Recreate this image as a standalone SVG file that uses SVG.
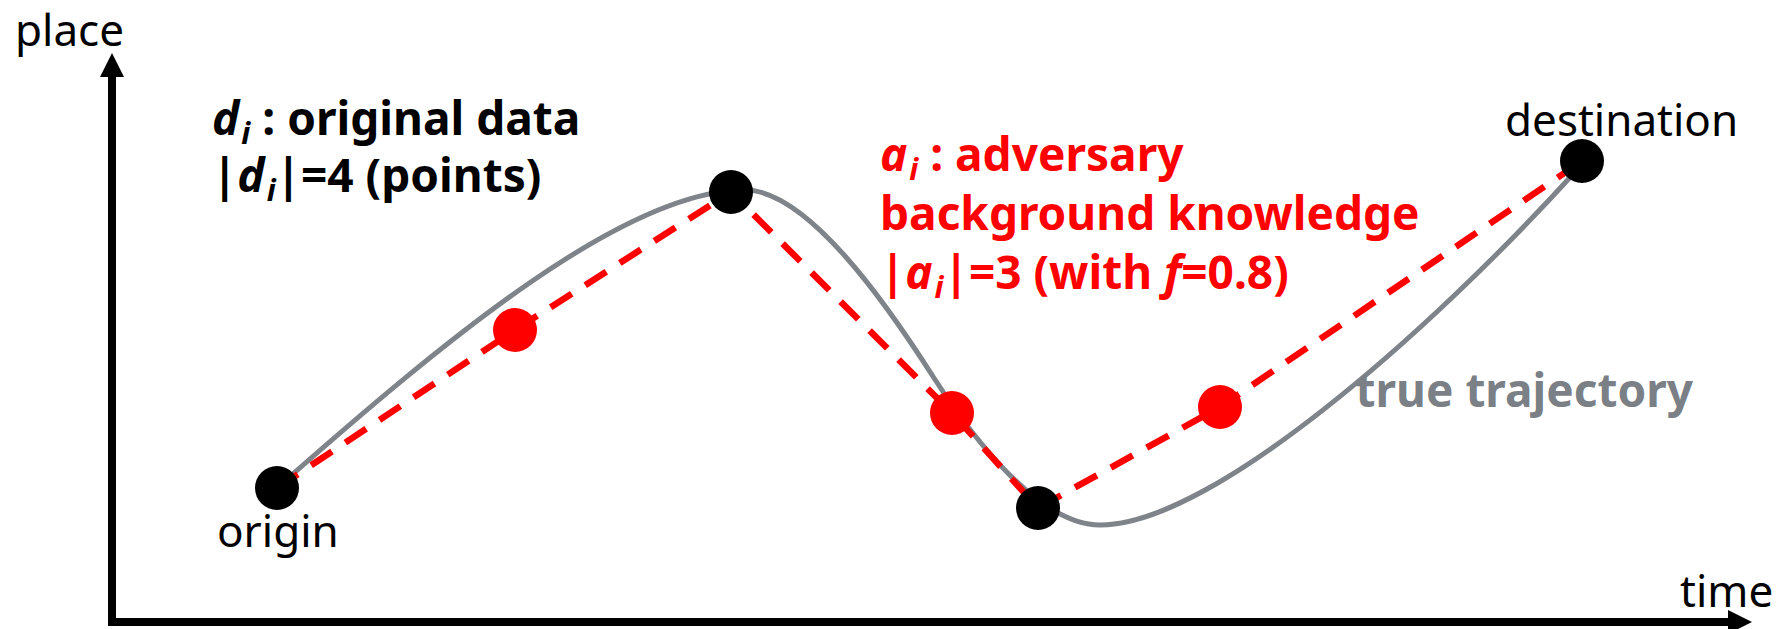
<svg xmlns="http://www.w3.org/2000/svg" width="1786" height="629" viewBox="0 0 1786 629">
<style>
.lbl{font-family:"Noto Sans","Noto Sans CJK JP",sans-serif;font-size:44px;fill:#000}
.bld{font-family:"Noto Sans","Noto Sans CJK JP",sans-serif;font-size:46px;font-weight:bold}
.it{font-style:italic}
.sub{font-style:italic;font-size:30px}
.axis{stroke:#000;stroke-width:8;fill:none}
.traj{stroke:#7F838A;stroke-width:5;fill:none}
.adv{stroke:#FF0000;stroke-width:6.5;fill:none;stroke-dasharray:25 16}
.bd{fill:#000}
.rd{fill:#FF0000}
</style>
<defs>
<marker id="ah" markerWidth="24" markerHeight="24" refX="0" refY="12" orient="auto" markerUnits="userSpaceOnUse">
<path d="M0,0 L24,12 L0,24 Z" fill="#000"/>
</marker>
</defs>
<g id="axes">
<line class="axis" x1="112" y1="626" x2="112" y2="77" marker-end="url(#ah)"/>
<line class="axis" x1="108" y1="622" x2="1728" y2="622" marker-end="url(#ah)"/>
<text class="lbl" x="15" y="46">place</text>
<text class="lbl" x="1680" y="607">time</text>
</g>
<g id="connectors">
<path id="true-trajectory" class="traj" d="M277,488 C447,338 625,190 745,190 C808,190 888,306 934,378 C974,440 1040,525 1100,525 C1210,525 1425,337 1575,172"/>
<polyline id="adversary-path" class="adv" points="277,488 515,330 731,192 952,413 1038,508 1220,407 1582,161"/>
</g>
<g id="node-origin">
<circle class="bd" cx="277" cy="488" r="22"/>
<text class="lbl" x="217" y="547">origin</text>
</g>
<g id="node-d2"><circle class="bd" cx="731" cy="192" r="22"/></g>
<g id="node-d3"><circle class="bd" cx="1038" cy="508" r="22"/></g>
<g id="node-destination">
<circle class="bd" cx="1582" cy="161" r="22"/>
<text class="lbl" x="1505" y="136">destination</text>
</g>
<g id="node-a1"><circle class="rd" cx="515" cy="330" r="22"/></g>
<g id="node-a2"><circle class="rd" cx="952" cy="413" r="22"/></g>
<g id="node-a3"><circle class="rd" cx="1220" cy="407" r="22"/></g>
<g id="label-original" class="bld" fill="#000">
<text x="212" y="135"><tspan class="it">d</tspan><tspan class="sub" dx="2" dy="9">i</tspan><tspan dy="-9"> : original data</tspan></text>
<text x="212" y="192">|<tspan class="it">d</tspan><tspan class="sub" dx="2" dy="9">i</tspan><tspan dy="-9">|=4 (points)</tspan></text>
</g>
<g id="label-adversary" class="bld" fill="#FF0000">
<text x="880" y="171"><tspan class="it">a</tspan><tspan class="sub" dx="2" dy="9">i</tspan><tspan dy="-9"> : adversary</tspan></text>
<text x="880" y="230">background knowledge</text>
<text x="880" y="289">|<tspan class="it">a</tspan><tspan class="sub" dx="2" dy="9">i</tspan><tspan dy="-9">|=3 (with </tspan><tspan class="it">f</tspan>=0.8)</text>
</g>
<g id="label-trajectory">
<text class="bld" x="1693" y="407" text-anchor="end" fill="#7B7F86">true trajectory</text>
</g>
</svg>
